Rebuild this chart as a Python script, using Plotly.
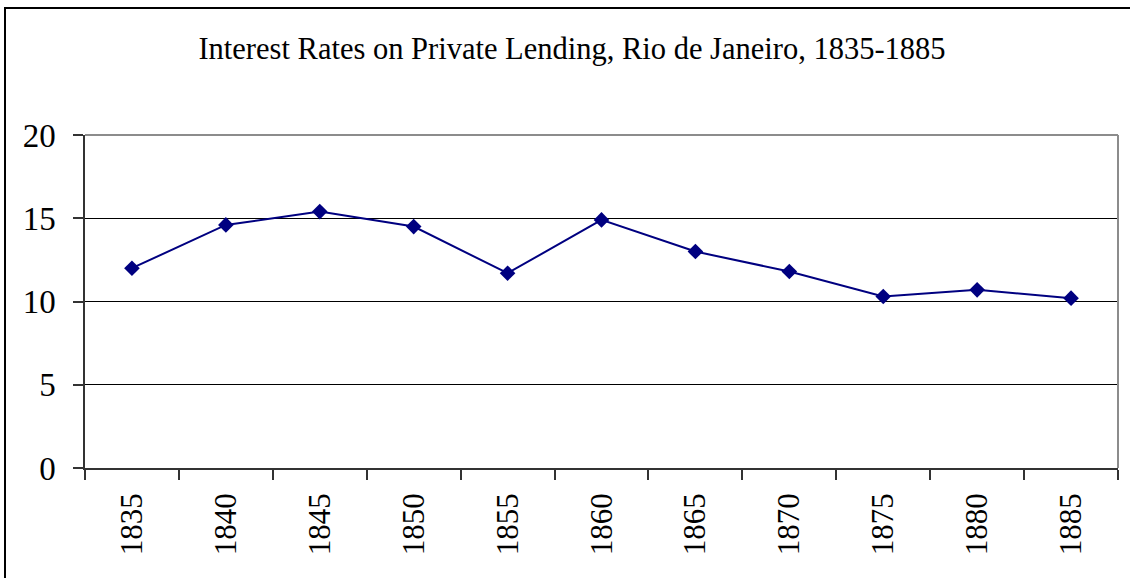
import plotly.graph_objects as go

years = ["1835", "1840", "1845", "1850", "1855", "1860", "1865", "1870", "1875", "1880", "1885"]
rates = [12.0, 14.6, 15.4, 14.5, 11.7, 14.9, 13.0, 11.8, 10.3, 10.7, 10.2]
y_ticks = [0, 5, 10, 15, 20]
title_text = "Interest Rates on Private Lending, Rio de Janeiro, 1835-1885"

FONT = "Liberation Serif"

fig = go.Figure()
fig.add_trace(go.Scatter(
    x=years, y=rates, mode="lines+markers",
    line=dict(color="#000080", width=2),
    marker=dict(symbol="diamond", size=12, color="#000080"),
    showlegend=False,
))

L, R, T, B = 85, 12, 135, 110
W, H = 1130, 578
pw, ph = W - L - R, H - T - B

fig.update_layout(
    width=W, height=H,
    margin=dict(l=L, r=R, t=T, b=B, autoexpand=False),
    paper_bgcolor="white", plot_bgcolor="white",
    title=dict(text=title_text, x=572 / W, xanchor="center",
               y=1 - 48 / H, yanchor="middle",
               font=dict(family=FONT, size=30.5, color="black")),
    font=dict(family=FONT, color="black"),
    xaxis=dict(type="category", tickangle=-90, tickson="boundaries",
               ticks="outside", ticklen=10, tickcolor="#333", tickwidth=1.5,
               showline=True, linecolor="#333", linewidth=1.5,
               showgrid=False, tickfont=dict(size=31, family=FONT),
               automargin=False, ticklabelstandoff=11,
               range=[-0.5, len(years) - 0.5], fixedrange=True),
    yaxis=dict(range=[0, 20], tickvals=y_ticks, ticks="outside", ticklen=10,
               tickcolor="#333", tickwidth=1.5,
               showline=True, linecolor="#333", linewidth=1.5,
               showgrid=True, gridcolor="black", gridwidth=1,
               zeroline=False, tickfont=dict(size=33, family=FONT),
               automargin=False,
               ticklabelstandoff=11, fixedrange=True),
)

# gray plot-area border on top and right
fig.add_shape(type="line", xref="paper", yref="paper", x0=0, x1=1, y0=1, y1=1,
              line=dict(color="#8c8c8c", width=2), layer="above")
fig.add_shape(type="line", xref="paper", yref="paper", x0=1, x1=1, y0=0, y1=1,
              line=dict(color="#8c8c8c", width=2), layer="above")

# outer chart border (top and left visible, right/bottom beyond image)
bx = (5 - L) / pw
by = (H - B - 8) / ph
fig.add_shape(type="rect", xref="paper", yref="paper",
              x0=bx, x1=1.5, y0=-1.0, y1=by,
              line=dict(color="black", width=2), fillcolor="rgba(0,0,0,0)",
              layer="above")

fig.write_html("out.html", config={"displayModeBar": False},
               post_script="document.body.style.margin='0';document.body.style.overflow='hidden';")
